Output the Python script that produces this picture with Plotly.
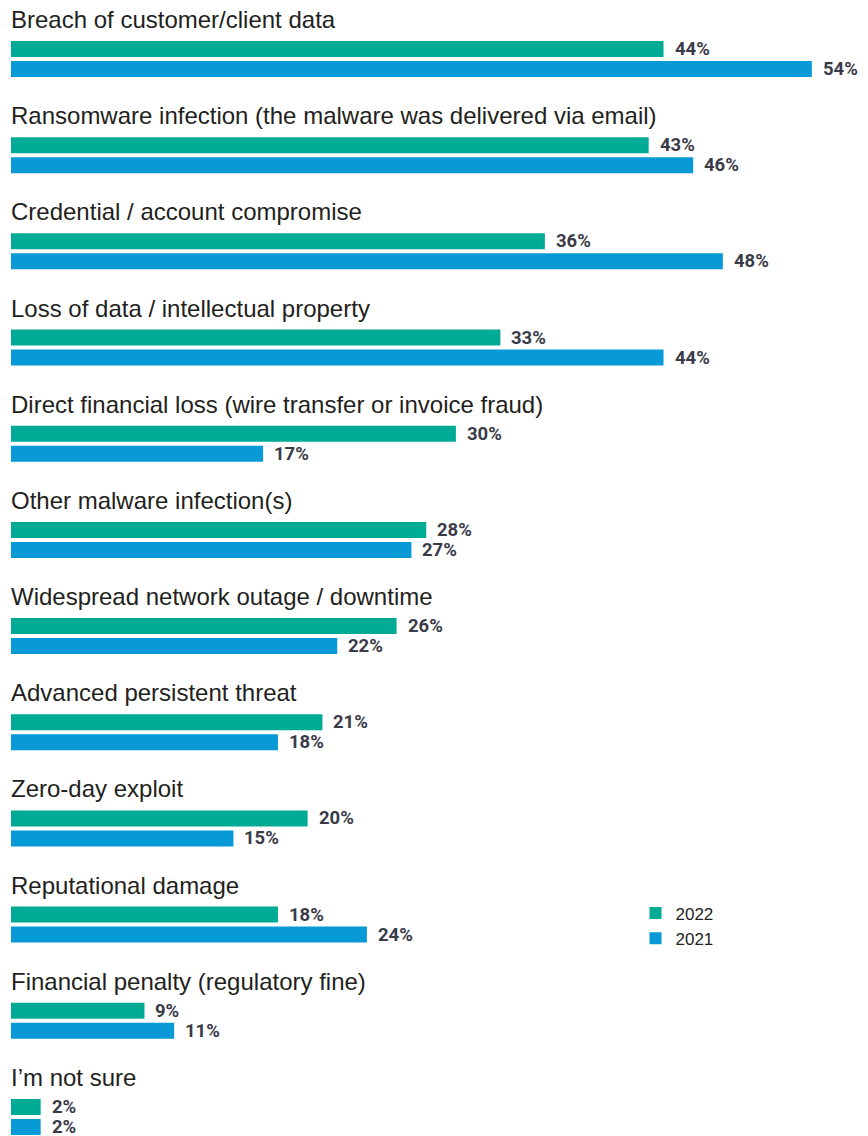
import plotly.graph_objects as go

categories = [
    "Breach of customer/client data",
    "Ransomware infection (the malware was delivered via email)",
    "Credential / account compromise",
    "Loss of data / intellectual property",
    "Direct financial loss (wire transfer or invoice fraud)",
    "Other malware infection(s)",
    "Widespread network outage / downtime",
    "Advanced persistent threat",
    "Zero-day exploit",
    "Reputational damage",
    "Financial penalty (regulatory fine)",
    "I\u2019m not sure",
]
values_2022 = [44, 43, 36, 33, 30, 28, 26, 21, 20, 18, 9, 2]
values_2021 = [54, 46, 48, 44, 17, 27, 22, 18, 15, 24, 11, 2]

W, H = 868, 1136
PITCH = 96.18          # px per group
XSCALE = 14.83         # px per percent
X0PX = 11              # px of x=0
GROUP_CENTER0 = 59     # px of first pair centre

COL_2022 = "#00AB96"
COL_2021 = "#0899D7"
LABEL_COL = "#231F20"
VALUE_COL = "#3A3B48"

idx = list(range(len(categories)))
off = 10 / PITCH
bw = 16 / PITCH

fig = go.Figure()
fig.add_trace(go.Bar(
    name="2022", y=[i - off for i in idx], x=values_2022, orientation="h",
    width=bw, marker=dict(color=COL_2022, line=dict(width=0)), hoverinfo="skip"))
fig.add_trace(go.Bar(
    name="2021", y=[i + off for i in idx], x=values_2021, orientation="h",
    width=bw, marker=dict(color=COL_2021, line=dict(width=0)), hoverinfo="skip"))

ann = []
for i, c in enumerate(categories):
    ann.append(dict(x=0, y=i - 39.5 / PITCH, xref="x", yref="y", text=c,
                    showarrow=False, xanchor="left", yanchor="middle", xshift=-2,
                    font=dict(family="Liberation Sans, Arial, sans-serif", size=24, color=LABEL_COL)))
    for v, yy in ((values_2022[i], i - off), (values_2021[i], i + off)):
        ann.append(dict(x=v, y=yy, xref="x", yref="y", text=f"<b>{v}%</b>",
                        showarrow=False, xanchor="left", yanchor="middle", xshift=9,
                        font=dict(family="Roboto, Liberation Sans, sans-serif",
                                  size=18.5, color=VALUE_COL)))

y_top = -GROUP_CENTER0 / PITCH
y_bot = y_top + H / PITCH
x_left = -X0PX / XSCALE
x_right = x_left + W / XSCALE

fig.update_layout(
    width=W, height=H, margin=dict(l=0, r=0, t=0, b=0),
    paper_bgcolor="white", plot_bgcolor="white",
    barmode="overlay", showlegend=True,
    xaxis=dict(range=[x_left, x_right], visible=False, fixedrange=True),
    yaxis=dict(range=[y_bot, y_top], visible=False, fixedrange=True),
    annotations=ann,
    legend=dict(x=635.5 / W, y=1 - 895.5 / H, xanchor="left", yanchor="top",
                traceorder="normal", bgcolor="rgba(0,0,0,0)",
                font=dict(family="Liberation Sans, Arial, sans-serif", size=17, color=LABEL_COL),
                itemwidth=30),
)

fig.write_html("out.html", config={"displayModeBar": False},
               post_script="document.body.style.margin='0';document.body.style.overflow='hidden';")
